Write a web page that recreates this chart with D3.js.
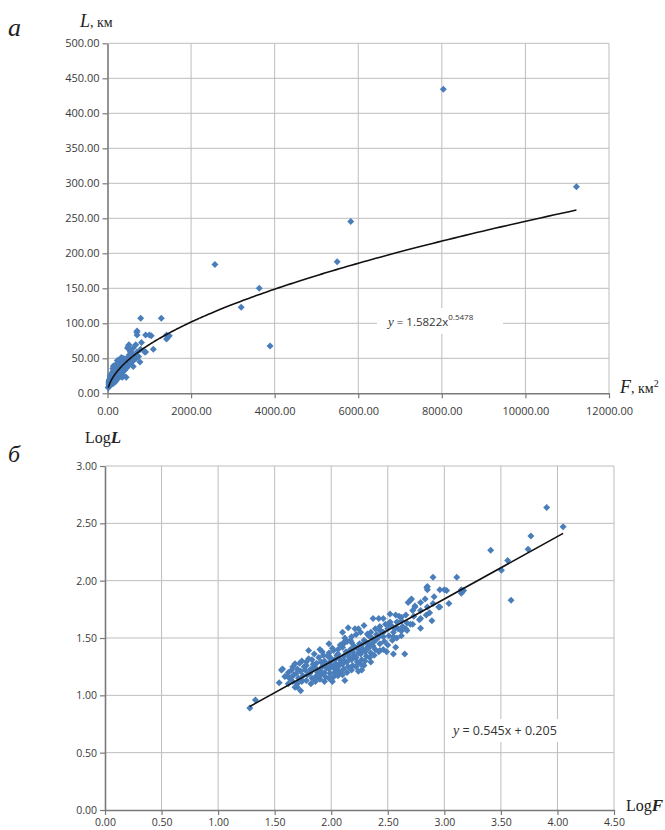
<!DOCTYPE html>
<html><head><meta charset="utf-8">
<script src="https://cdn.jsdelivr.net/npm/d3@7/dist/d3.min.js"></script>
<style>
html,body{margin:0;padding:0;background:#fff;}
svg{display:block;}
</style></head>
<body>
<svg id="c" width="665" height="830"></svg>
<script>
// ---------- DATA ----------
// [log10 F, log10 L] pairs read from panel б; panel а shows the same basins as F, L
const logPairs = [
[1.28,0.89],[1.33,0.96],[1.54,1.11],[1.56,1.22],[1.57,1.23],[1.59,1.165],[1.61,1.17],[1.65,1.16],[1.68,1.275],[1.68,1.07],
[1.70,1.07],[1.73,1.04],[1.74,1.13],[1.78,1.29],[1.80,1.39],[1.84,1.23],[1.87,1.16],[1.90,1.20],[1.92,1.38],[1.98,1.45],
[1.99,1.33],[2.01,1.12],[2.04,1.275],[2.06,1.36],[2.08,1.20],[2.11,1.45],[2.12,1.13],[2.15,1.59],[2.18,1.51],[2.21,1.33],
[2.24,1.58],[2.26,1.39],[2.27,1.22],
[1.62,1.10],[1.63,1.15],[1.62,1.20],
[1.66,1.12],[1.67,1.18],[1.65,1.22],[1.66,1.25],
[1.70,1.10],[1.71,1.15],[1.69,1.19],[1.70,1.23],[1.72,1.28],
[1.74,1.12],[1.75,1.17],[1.73,1.21],[1.76,1.25],[1.74,1.30],
[1.78,1.13],[1.79,1.18],[1.77,1.22],[1.78,1.26],[1.80,1.32],[1.81,1.20],
[1.82,1.10],[1.83,1.15],[1.81,1.19],[1.82,1.23],[1.84,1.27],[1.83,1.31],[1.85,1.36],
[1.86,1.12],[1.87,1.17],[1.88,1.20],[1.86,1.24],[1.87,1.28],[1.89,1.33],
[1.90,1.14],[1.91,1.18],[1.90,1.22],[1.92,1.25],[1.91,1.29],[1.93,1.35],[1.90,1.40],
[1.94,1.12],[1.95,1.16],[1.94,1.20],[1.96,1.24],[1.95,1.27],[1.94,1.30],[1.97,1.34],
[1.98,1.15],[1.99,1.19],[1.98,1.23],[2.00,1.26],[1.99,1.29],[2.00,1.32],[1.98,1.37],[2.01,1.41],
[2.02,1.16],[2.03,1.20],[2.02,1.24],[2.04,1.27],[2.03,1.31],[2.05,1.35],[2.02,1.39],[2.05,1.22],
[2.06,1.17],[2.07,1.21],[2.06,1.25],[2.08,1.28],[2.07,1.32],[2.09,1.30],[2.06,1.40],[2.08,1.44],
[2.10,1.18],[2.11,1.23],[2.10,1.27],[2.12,1.30],[2.11,1.34],[2.13,1.38],[2.10,1.42],[2.12,1.50],
[2.14,1.20],[2.15,1.25],[2.14,1.29],[2.16,1.33],[2.15,1.36],[2.17,1.40],[2.14,1.47],
[2.18,1.22],[2.19,1.26],[2.18,1.31],[2.20,1.35],[2.19,1.38],[2.21,1.42],[2.18,1.46],
[2.22,1.25],[2.23,1.29],[2.22,1.33],[2.24,1.37],[2.23,1.41],[2.25,1.45],[2.22,1.53],
[2.26,1.27],[2.27,1.31],[2.26,1.36],[2.28,1.40],[2.27,1.44],[2.29,1.48],
[2.30,1.30],[2.31,1.34],[2.30,1.38],[2.32,1.42],[2.31,1.46],[2.33,1.52],
[2.34,1.33],[2.35,1.37],[2.34,1.45],[2.36,1.50],[2.35,1.55],
[2.38,1.35],[2.39,1.40],[2.38,1.47],[2.40,1.53],[2.39,1.58],
[2.42,1.38],[2.43,1.45],[2.42,1.51],[2.44,1.56],[2.43,1.60],
[2.46,1.40],[2.47,1.47],[2.46,1.55],[2.48,1.62],
[2.50,1.44],[2.51,1.52],[2.50,1.58],[2.52,1.64],
[2.54,1.48],[2.55,1.55],[2.54,1.60],
[2.58,1.50],[2.59,1.58],[2.58,1.64],
[2.62,1.56],[2.63,1.60],[2.62,1.68],
[2.66,1.58],[2.67,1.63],[2.66,1.70],
[2.72,1.62],[2.73,1.69],[2.72,1.74],
[2.78,1.66],[2.79,1.74],
[2.84,1.70],[2.85,1.77],
[2.90,1.80],[2.91,1.86],
[2.29,1.26],[2.24,1.21],[2.35,1.29],
[2.85,1.95],[2.85,1.92],[2.96,1.92],[2.71,1.84],[2.68,1.81],[2.79,1.81],[2.83,1.84],[2.74,1.77],[2.87,1.72],[2.95,1.77],
[2.79,1.67],[2.89,1.65],[2.79,1.585],[2.52,1.71],[2.57,1.70],[2.60,1.69],[2.37,1.67],[2.42,1.67],[2.46,1.67],[2.62,1.65],
[2.70,1.62],[2.67,1.565],[2.57,1.59],[2.51,1.62],[2.29,1.61],[2.10,1.55],[2.21,1.58],[2.26,1.55],[2.32,1.535],[2.43,1.565],
[2.46,1.51],[2.40,1.49],[2.55,1.51],[2.62,1.52],[2.49,1.38],[2.37,1.43],[2.33,1.41],[2.11,1.46],[2.17,1.48],[2.20,1.43],
[2.55,1.36],[2.57,1.42],[2.43,1.39],[2.65,1.36],
[3.04,1.80],[2.96,1.77],[2.70,1.83],[2.74,1.78],
[2.90,2.03],[3.11,2.03],[2.845,1.94],[3.00,1.92],[3.02,1.915],[3.15,1.92],[3.16,1.905],[3.17,1.915],[3.15,1.89],
[3.41,2.265],[3.505,2.09],[3.56,2.176],[3.59,1.83],[3.74,2.274],[3.765,2.39],[3.905,2.638],[4.05,2.47]
];

// tick values
const topXTicks = [0,2000,4000,6000,8000,10000,12000];
const topYTicks = [0,50,100,150,200,250,300,350,400,450,500];
const botXTicks = [0,0.5,1,1.5,2,2.5,3,3.5,4,4.5];
const botYTicks = [0,0.5,1,1.5,2,2.5,3];

// trend line coefficients (as printed)
const powA = 1.5822, powB = 0.5478;
const linA = 0.545, linB = 0.205;

// ---------- DRAW ----------
const svg = d3.select("#c");
const fmt = d3.format(".2f");
const gridCol = "#bdbdbd", axisCol = "#7a7a7a", tickTxt = "#3a3a3a", markCol = "#4a7ebb";
const diamond = r => `M0,${-r}L${r},0L0,${r}L${-r},0Z`;

function panel(cfg){
  const {x, y, xt, yt, fs} = cfg;
  const g = svg.append("g");
  g.append("g").selectAll("line").data(yt.slice(1)).join("line")
    .attr("x1", x.range()[0]).attr("x2", x.range()[1])
    .attr("y1", d=>y(d)).attr("y2", d=>y(d))
    .attr("stroke", gridCol).attr("stroke-width",1);
  g.append("g").selectAll("line").data(xt.slice(1)).join("line")
    .attr("y1", y.range()[0]).attr("y2", y.range()[1])
    .attr("x1", d=>x(d)).attr("x2", d=>x(d))
    .attr("stroke", gridCol).attr("stroke-width",1);
  const ax = g.append("g").attr("transform",`translate(0,${y.range()[0]})`)
    .call(d3.axisBottom(x).tickValues(xt).tickFormat(fmt).tickSize(5).tickSizeOuter(0));
  const ay = g.append("g").attr("transform",`translate(${x.range()[0]},0)`)
    .call(d3.axisLeft(y).tickValues(yt).tickFormat(fmt).tickSize(5).tickSizeOuter(0));
  [ax,ay].forEach(a=>{
    a.select(".domain").attr("stroke",axisCol).attr("stroke-width",1.6);
    a.selectAll(".tick line").attr("stroke",axisCol).attr("stroke-width",1.2);
    a.selectAll(".tick text").attr("fill",tickTxt).style("font-family","'Open Sans',sans-serif").style("font-size",fs+"px");
  });
  ax.selectAll(".tick text").attr("dy", cfg.xdy);
  ay.selectAll(".tick text").attr("x", -8);
  return g;
}

// ----- panel а -----
const xA = d3.scaleLinear().domain([0,12000]).range([107.5,609]);
const yA = d3.scaleLinear().domain([0,500]).range([393.3,43.3]);
const gA = panel({x:xA, y:yA, xt:topXTicks, yt:topYTicks, fs:11, xdy:"1.25em"});

const ptsA = logPairs.map(p=>[Math.pow(10,p[0]), Math.pow(10,p[1])]);
gA.append("g").selectAll("path").data(ptsA).join("path")
  .attr("d", diamond(3.5)).attr("fill", markCol)
  .attr("transform", d=>`translate(${xA(d[0])},${yA(d[1])})`);

const fMin = d3.min(ptsA, d=>d[0]), fMax = d3.max(ptsA, d=>d[0]);
const curve = d3.range(0, 401).map(i=>{
  const f = fMin * Math.pow(fMax/fMin, i/400);
  return [f, powA*Math.pow(f,powB)];
});
gA.append("path").datum(curve)
  .attr("d", d3.line().x(d=>xA(d[0])).y(d=>yA(d[1])))
  .attr("fill","none").attr("stroke","#111").attr("stroke-width",1.6);

gA.append("rect").attr("x",377).attr("y",308).attr("width",126).attr("height",26).attr("fill","#fff");
const eqA = gA.append("text").attr("x",388).attr("y",326)
  .style("font-family","'Open Sans',sans-serif").style("font-size","11.5px").attr("fill","#333");
eqA.append("tspan").text("y").style("font-family","'Liberation Serif',serif").style("font-style","italic").style("font-size","13px");
eqA.append("tspan").text(" = 1.5822x");
eqA.append("tspan").text("0.5478").attr("dy",-6).style("font-size","8px");

// ----- panel б -----
const xB = d3.scaleLinear().domain([0,4.5]).range([105,614]);
const yB = d3.scaleLinear().domain([0,3]).range([810,466]);
const gB = panel({x:xB, y:yB, xt:botXTicks, yt:botYTicks, fs:10.5, xdy:"0.8em"});

gB.append("g").selectAll("path").data(logPairs).join("path")
  .attr("d", diamond(3.5)).attr("fill", markCol)
  .attr("transform", d=>`translate(${xB(d[0])},${yB(d[1])})`);

const lx = d3.extent(logPairs, d=>d[0]);
gB.append("line")
  .attr("x1", xB(lx[0])).attr("y1", yB(linA*lx[0]+linB))
  .attr("x2", xB(lx[1])).attr("y2", yB(linA*lx[1]+linB))
  .attr("stroke","#111").attr("stroke-width",1.6);

gB.append("rect").attr("x",449).attr("y",719).attr("width",124).attr("height",23).attr("fill","#fff");
const eqB = gB.append("text").attr("x",453).attr("y",735)
  .style("font-family","'Open Sans',sans-serif").style("font-size","12.5px").attr("fill","#333");
eqB.append("tspan").text("y").style("font-family","'Liberation Serif',serif").style("font-style","italic").style("font-size","14px");
eqB.append("tspan").text(" = 0.545x + 0.205");

// ----- labels -----
const serif = "'Liberation Serif','Times New Roman',serif";
function lab(x,y){ return svg.append("text").attr("x",x).attr("y",y).style("font-family",serif).attr("fill","#222"); }

lab(8,36).text("а").style("font-style","italic").style("font-size","26px");
lab(8,462).text("б").style("font-style","italic").style("font-size","24px");

const lL = lab(80,27);
lL.append("tspan").text("L").style("font-style","italic").style("font-size","18px");
lL.append("tspan").text(", км").style("font-size","14px");

const lF = lab(620,393);
lF.append("tspan").text("F").style("font-style","italic").style("font-size","18px");
lF.append("tspan").text(", км").style("font-size","14px");
lF.append("tspan").text("2").attr("dy",-6).style("font-size","10px");

const lLL = lab(85,443);
lLL.append("tspan").text("Log").style("font-size","16px");
lLL.append("tspan").text("L").style("font-style","italic").style("font-size","17px").style("font-weight","bold");

const lLF = lab(626,811);
lLF.append("tspan").text("Log").style("font-size","16px");
lLF.append("tspan").text("F").style("font-style","italic").style("font-size","17px").style("font-weight","bold");
</script>
</body></html>
